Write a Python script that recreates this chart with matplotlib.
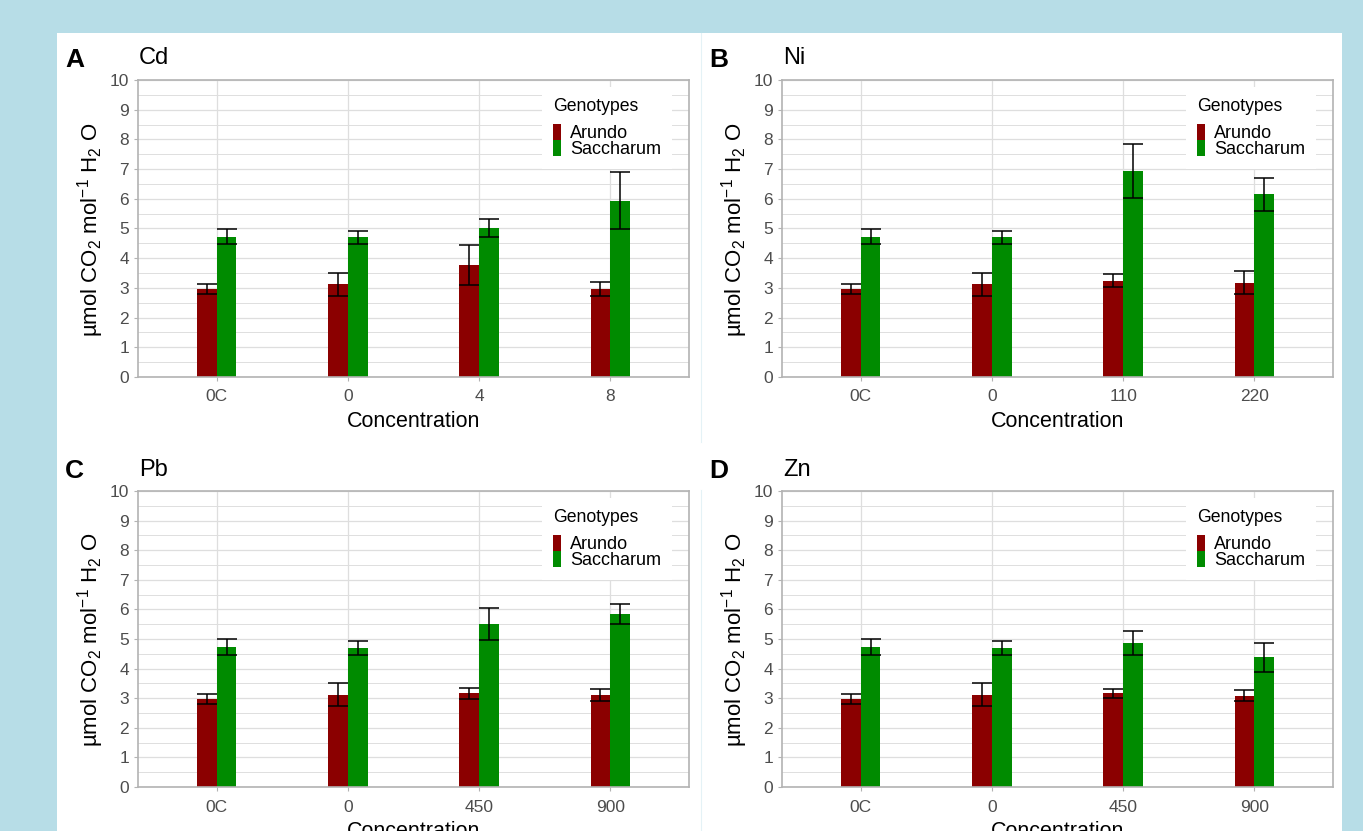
import numpy as np
import matplotlib
matplotlib.use("Agg")
import matplotlib.pyplot as plt
from matplotlib.patches import Patch, Rectangle
from matplotlib.lines import Line2D
from matplotlib.ticker import MultipleLocator

# ---------------- data ----------------
genotypes = ["Arundo", "Saccharum"]
panel_letters = ["A", "B", "C", "D"]
metals = ["Cd", "Ni", "Pb", "Zn"]

cd_labels = ["0C", "0", "4", "8"]
ni_labels = ["0C", "0", "110", "220"]
pb_labels = ["0C", "0", "450", "900"]
zn_labels = ["0C", "0", "450", "900"]

cd_arundo = [2.96, 3.12, 3.77, 2.96]
cd_arundo_se = [0.17, 0.39, 0.66, 0.23]
cd_sacch = [4.73, 4.70, 5.02, 5.94]
cd_sacch_se = [0.26, 0.23, 0.31, 0.96]

ni_arundo = [2.96, 3.12, 3.24, 3.17]
ni_arundo_se = [0.17, 0.39, 0.22, 0.39]
ni_sacch = [4.73, 4.70, 6.94, 6.15]
ni_sacch_se = [0.26, 0.23, 0.91, 0.56]

pb_arundo = [2.96, 3.12, 3.16, 3.11]
pb_arundo_se = [0.17, 0.39, 0.20, 0.21]
pb_sacch = [4.73, 4.70, 5.51, 5.85]
pb_sacch_se = [0.26, 0.23, 0.53, 0.33]

zn_arundo = [2.96, 3.12, 3.16, 3.09]
zn_arundo_se = [0.17, 0.39, 0.15, 0.18]
zn_sacch = [4.73, 4.70, 4.86, 4.38]
zn_sacch_se = [0.26, 0.23, 0.40, 0.48]

panels = [
    (cd_labels, cd_arundo, cd_arundo_se, cd_sacch, cd_sacch_se),
    (ni_labels, ni_arundo, ni_arundo_se, ni_sacch, ni_sacch_se),
    (pb_labels, pb_arundo, pb_arundo_se, pb_sacch, pb_sacch_se),
    (zn_labels, zn_arundo, zn_arundo_se, zn_sacch, zn_sacch_se),
]

# ---------------- style ----------------
plt.rcParams['font.family'] = ['Liberation Sans', 'DejaVu Sans']
plt.rcParams['mathtext.fontset'] = 'custom'
plt.rcParams['mathtext.rm'] = 'Liberation Sans'
plt.rcParams['mathtext.it'] = 'Liberation Sans:italic'
plt.rcParams['mathtext.bf'] = 'Liberation Sans:bold'

RED = "#8B0000"
GREEN = "#008B00"
GRID = "#DEDEDE"
BORDER = "#B3B3B3"
TXT = "#4D4D4D"
BG = "#B7DDE7"

W, H = 1363, 831
fig = plt.figure(figsize=(W / 100, H / 100), dpi=100)
fig.patch.set_facecolor(BG)


def fx(x):
    return x / W


def fy(y):
    return 1 - y / H


# white panel
fig.patches.append(Rectangle((fx(57), 0), fx(1342) - fx(57), fy(33), transform=fig.transFigure,
                             facecolor="white", edgecolor="none", zorder=-10))
# faint separators
fig.add_artist(Line2D([fx(700.5)] * 2, [fy(33), fy(442)], color="#E4F2F6", lw=0.8, zorder=-5))
fig.add_artist(Line2D([fx(700.5)] * 2, [fy(490), fy(831)], color="#E4F2F6", lw=0.8, zorder=-5))

boxes = [(138, 80, 689, 377), (782, 80, 1333, 377), (138, 491, 689, 787), (782, 491, 1333, 787)]

ylabel = r"µmol CO$_2$ mol$^{-1}$ H$_2$ O"
bw = 0.15

for i, (box, data) in enumerate(zip(boxes, panels)):
    l, t, r, b = box
    ax = fig.add_axes([fx(l), fy(b), fx(r) - fx(l), fy(t) - fy(b)])
    ax.set_zorder(1)
    labels, ar, ar_se, sa, sa_se = data
    x = np.arange(1, len(labels) + 1)

    ax.bar(x - bw / 2, ar, width=bw, color=RED, zorder=2)
    ax.bar(x + bw / 2, sa, width=bw, color=GREEN, zorder=2)
    ax.errorbar(x - bw / 2, ar, yerr=ar_se, fmt='none', ecolor='black', elinewidth=1.1,
                capsize=7, capthick=1.1, zorder=3)
    ax.errorbar(x + bw / 2, sa, yerr=sa_se, fmt='none', ecolor='black', elinewidth=1.1,
                capsize=7, capthick=1.1, zorder=3)

    ax.set_xlim(0.4, len(labels) + 0.6)
    ax.set_ylim(0, 10)
    ax.set_xticks(x)
    ax.set_xticklabels(labels)
    ax.yaxis.set_major_locator(MultipleLocator(1))
    ax.yaxis.set_minor_locator(MultipleLocator(0.5))
    ax.grid(True, which='major', axis='both', color=GRID, lw=0.9, zorder=0)
    ax.grid(True, which='minor', axis='y', color=GRID, lw=0.7, zorder=0)
    ax.set_axisbelow(True)
    for s in ax.spines.values():
        s.set_color(BORDER)
        s.set_linewidth(1.2)
    ax.tick_params(axis='both', which='major', color=BORDER, length=3, width=0.8,
                   labelcolor=TXT, labelsize=12.5)
    ax.tick_params(axis='y', pad=3.5)
    ax.tick_params(axis='x', pad=6)
    ax.tick_params(which='minor', length=0)
    ax.set_xlabel("Concentration", fontsize=15.5, color="black", labelpad=5)

    # y label
    fig.text(fx(l - 47), fy((t + b) / 2 + 1), ylabel, rotation=90, ha='center', va='center',
             fontsize=16, color="black")
    # panel letter + title
    fig.text(fx(l - 73), fy(t - 13), panel_letters[i], fontsize=19, fontweight='bold',
             ha='left', va='baseline')
    fig.text(fx(l + 1), fy(t - 15.5), metals[i], fontsize=17, ha='left', va='baseline')

    handles = [Patch(facecolor=RED, edgecolor='none', label=genotypes[0]),
               Patch(facecolor=GREEN, edgecolor='none', label=genotypes[1])]
    leg = ax.legend(handles=handles, title="Genotypes", loc='upper left',
                    bbox_to_anchor=(0.733, 0.975), borderaxespad=0, fontsize=13,
                    title_fontsize=12.7, handlelength=0.45, handleheight=1.0,
                    handletextpad=0.5, labelspacing=-0.1, borderpad=0.6,
                    frameon=True, fancybox=False, framealpha=1, facecolor='white',
                    edgecolor='none', alignment='left')
    try:
        leg._legend_box.sep = 6.0
    except Exception:
        pass
    leg.set_zorder(5)

fig.savefig("out.png", dpi=100, facecolor=fig.get_facecolor())
